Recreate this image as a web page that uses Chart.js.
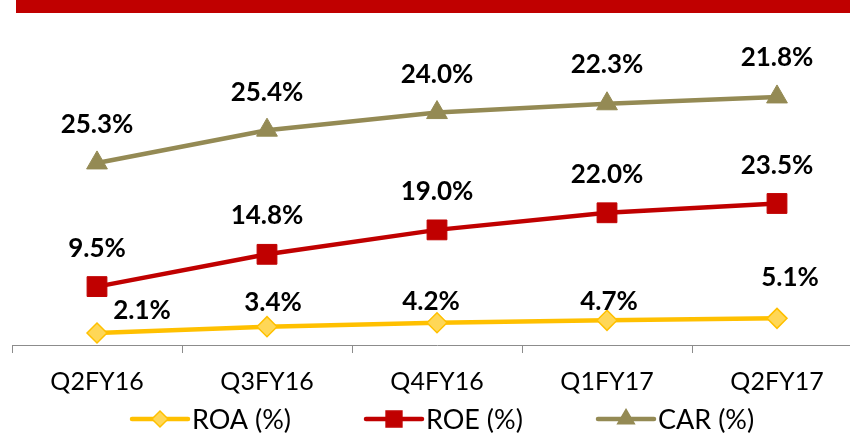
<!DOCTYPE html>
<html>
<head>
<meta charset="utf-8">
<script src="https://cdn.jsdelivr.net/npm/chart.js@4/dist/chart.umd.min.js"></script>
<style>
  html, body { margin: 0; padding: 0; background: #fff; overflow: hidden; }
  #wrap { position: relative; width: 850px; height: 433px; overflow: hidden; }
  #band { position: absolute; left: 16px; top: 0; width: 834px; height: 13px; background: #C00000; }
  #chart { position: absolute; left: 0; top: 0; }
</style>
</head>
<body>
<div id="wrap">
  <div id="band"></div>
  <canvas id="chart" width="872" height="433"></canvas>
</div>
<script>
var quarters = ['Q2FY16', 'Q3FY16', 'Q4FY16', 'Q1FY17', 'Q2FY17'];
var roa = [2.1, 3.4, 4.2, 4.7, 5.1];
var roe = [9.5, 14.8, 19.0, 22.0, 23.5];
var car = [25.3, 25.4, 24.0, 22.3, 21.8];
var seriesNames = ['ROA (%)', 'ROE (%)', 'CAR (%)'];

// hand-placed label nudges, as in the source deck
var labelShift = [
  [[45, -22], [6, -24], [-6, -21], [2, -19], [13, -41]],
  [[0, -38], [0, -39], [0, -38], [0, -38], [0, -38]],
  [[0, -38], [0, -38], [0, -38], [0, -39], [0, -39]]
];
var legendX = [132, 366, 598];

var labelFont = 'bold 26px Lato';
var legendFont = '27px Lato';

var pointLabels = {
  id: 'pointLabels',
  afterDatasetsDraw: function (chart) {
    var c = chart.ctx;
    c.save();
    c.font = labelFont;
    c.fillStyle = '#000';
    c.textAlign = 'center';
    c.textBaseline = 'middle';
    chart.data.datasets.forEach(function (ds, i) {
      chart.getDatasetMeta(i).data.forEach(function (pt, j) {
        var s = labelShift[i][j];
        c.fillText(ds.data[j].toFixed(1) + '%', pt.x + s[0], pt.y + s[1]);
      });
    });
    c.restore();
  }
};

var lineLegend = {
  id: 'lineLegend',
  afterDraw: function (chart) {
    var c = chart.ctx;
    var y = 419;
    chart.data.datasets.forEach(function (ds, i) {
      var x = legendX[i];
      c.save();
      c.strokeStyle = ds.borderColor;
      c.lineWidth = 4.5;
      c.lineCap = 'round';
      c.beginPath();
      c.moveTo(x, y);
      c.lineTo(x + 56, y);
      c.stroke();
      c.fillStyle = ds.pointBackgroundColor;
      c.strokeStyle = ds.pointBorderColor;
      c.lineWidth = 1.5;
      Chart.helpers.drawPoint(c, { pointStyle: ds.pointStyle, radius: ds.pointRadius * 0.8, borderWidth: 1.5, rotation: 0 }, x + 28, y);
      c.font = legendFont;
      c.fillStyle = '#000';
      c.textAlign = 'left';
      c.textBaseline = 'middle';
      c.fillText(seriesNames[i], x + 60, y + 1);
      c.restore();
    });
  }
};

new Chart(document.getElementById('chart'), {
  type: 'line',
  data: {
    labels: quarters,
    datasets: [
      {
        label: seriesNames[0], data: roa,
        borderColor: '#FFC000', borderWidth: 4.5,
        pointStyle: 'rectRot', pointRadius: 10,
        pointBackgroundColor: '#FFD757', pointBorderColor: '#FFC000', pointBorderWidth: 1.5
      },
      {
        label: seriesNames[1], data: roe,
        borderColor: '#C00000', borderWidth: 4.5,
        pointStyle: 'rect', pointRadius: 14,
        pointBackgroundColor: '#C00000', pointBorderColor: '#C00000', pointBorderWidth: 1
      },
      {
        label: seriesNames[2], data: car,
        borderColor: '#948A54', borderWidth: 4.5,
        pointStyle: 'triangle', pointRadius: 12,
        pointBackgroundColor: '#948A54', pointBorderColor: '#948A54', pointBorderWidth: 1
      }
    ]
  },
  options: {
    responsive: false,
    animation: false,
    layout: { autoPadding: false, padding: { left: 12, right: 10, top: 50, bottom: 22 } },
    plugins: {
      legend: { display: false },
      tooltip: { enabled: false }
    },
    scales: {
      x: {
        offset: true,
        grid: { offset: true, drawOnChartArea: false, tickLength: 8, color: '#8C8C8C' },
        border: { display: true, color: '#8C8C8C', width: 1 },
        ticks: { color: '#000', font: { family: 'Lato', size: 25 }, padding: 14, maxRotation: 0 },
        afterFit: function (scale) { scale.paddingLeft = 0; scale.paddingRight = 0; }
      },
      y: {
        display: false,
        stacked: true,
        min: -0.35,
        max: 60
      }
    }
  },
  plugins: [pointLabels, lineLegend]
});
</script>
</body>
</html>
